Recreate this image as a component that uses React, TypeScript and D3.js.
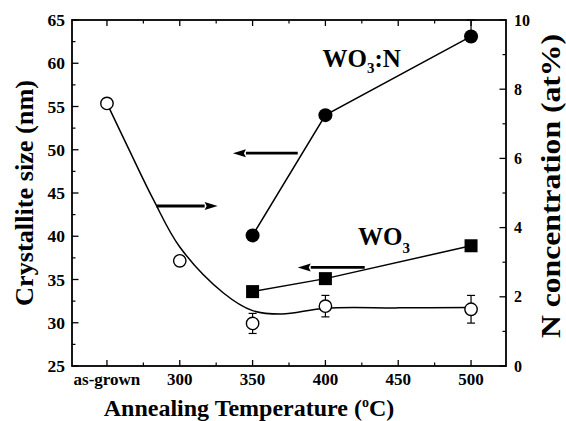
import React from "react";
import * as d3 from "d3";

// ---- data ----
const xTickValues = [250, 300, 350, 400, 450, 500];
const xTickLabels = ["as-grown", "300", "350", "400", "450", "500"];
const xMinorTicks = [275, 325, 375, 425, 475];
const leftTicks = [25, 30, 35, 40, 45, 50, 55, 60, 65];
const leftMinor = [27.5, 32.5, 37.5, 42.5, 47.5, 52.5, 57.5, 62.5];
const rightTicks = [0, 2, 4, 6, 8, 10];
const rightMinor = [1, 3, 5, 7, 9];

// N concentration (open circles, right axis)
const nTemps = [250, 300, 350, 400, 500];
const nConc = [7.59, 3.04, 1.23, 1.73, 1.64];
const nErr = [0, 0, 0.29, 0.31, 0.4];
// smooth fit curve through N concentration
const fitTemps = [250, 265, 282, 300, 330, 350, 370, 400, 450, 500];
const fitConc = [7.59, 6.27, 4.8, 3.44, 2.11, 1.6, 1.5, 1.67, 1.68, 1.69];

// WO3:N crystallite size (filled circles, left axis)
const wnTemps = [350, 400, 500];
const wnSize = [40.1, 54.0, 63.1];
const wnErr = [0, 0, 1.9];

// WO3 crystallite size (filled squares, left axis)
const wTemps = [350, 400, 500];
const wSize = [33.6, 35.1, 38.9];

// annotation arrows (temperature from, temperature to, left-axis value)
const arrowFrom = [381, 284, 427];
const arrowTo = [336.5, 326, 381];
const arrowY = [49.6, 43.5, 36.4];

const W = 566;
const H = 421;
const L = 72, R = 506, T = 20, B = 366;
const FONT = "Liberation Serif, DejaVu Serif, Times New Roman, serif";

export default function App() {
  const x = d3.scaleLinear().domain([226, 524]).range([L, R]);
  const yL = d3.scaleLinear().domain([25, 65]).range([B, T]);
  const yR = d3.scaleLinear().domain([0, 10]).range([B, T]);

  const fitLine = d3
    .line<number>()
    .x((d, i) => x(fitTemps[i]))
    .y((d) => yR(d))
    .curve(d3.curveCatmullRom.alpha(0.5))(fitConc);
  const wnLine = d3
    .line<number>()
    .x((d, i) => x(wnTemps[i]))
    .y((d) => yL(d))(wnSize);
  const wLine = d3
    .line<number>()
    .x((d, i) => x(wTemps[i]))
    .y((d) => yL(d))(wSize);

  const sq = 13;

  return (
    <svg
      width={W}
      height={H}
      style={{ position: "absolute", left: 0, top: 0, background: "#fff", fontFamily: FONT, fontWeight: "bold" }}
    >
      <rect x={0} y={0} width={W} height={H} fill="#fff" />
      {/* frame */}
      <rect x={L} y={T} width={R - L} height={B - T} fill="none" stroke="#000" strokeWidth={1.8} />

      {/* x ticks bottom & top */}
      {xTickValues.map((v) => (
        <g key={"xt" + v}>
          <line x1={x(v)} x2={x(v)} y1={B} y2={B - 6} stroke="#000" strokeWidth={1.3} />
          <line x1={x(v)} x2={x(v)} y1={T} y2={T + 6} stroke="#000" strokeWidth={1.3} />
        </g>
      ))}
      {xMinorTicks.map((v) => (
        <g key={"xm" + v}>
          <line x1={x(v)} x2={x(v)} y1={B} y2={B - 3.5} stroke="#000" strokeWidth={1.2} />
          <line x1={x(v)} x2={x(v)} y1={T} y2={T + 3.5} stroke="#000" strokeWidth={1.2} />
        </g>
      ))}
      {xTickValues.map((v, i) => (
        <text key={"xl" + v} x={x(v)} y={385} textAnchor="middle" fontSize={17}>
          {xTickLabels[i]}
        </text>
      ))}

      {/* left ticks */}
      {leftTicks.map((v) => (
        <g key={"lt" + v}>
          <line x1={L} x2={L + 6.5} y1={yL(v)} y2={yL(v)} stroke="#000" strokeWidth={1.3} />
          <text x={65} y={yL(v)} dy="0.35em" textAnchor="end" fontSize={17.5}>
            {v}
          </text>
        </g>
      ))}
      {leftMinor.map((v) => (
        <line key={"lm" + v} x1={L} x2={L + 3.5} y1={yL(v)} y2={yL(v)} stroke="#000" strokeWidth={1.2} />
      ))}

      {/* right ticks */}
      {rightTicks.map((v) => (
        <g key={"rt" + v}>
          <line x1={R} x2={R - 6.5} y1={yR(v)} y2={yR(v)} stroke="#000" strokeWidth={1.3} />
          <text x={514} y={yR(v)} dy="0.35em" textAnchor="start" fontSize={16}>
            {v}
          </text>
        </g>
      ))}
      {rightMinor.map((v) => (
        <line key={"rm" + v} x1={R} x2={R - 3.5} y1={yR(v)} y2={yR(v)} stroke="#000" strokeWidth={1.2} />
      ))}

      {/* axis titles */}
      <text
        transform={`translate(33,${(T + B) / 2}) rotate(-90)`}
        textAnchor="middle"
        fontSize={26}
        textLength={226}
        lengthAdjust="spacingAndGlyphs"
      >
        Crystallite size (nm)
      </text>
      <text
        transform={`translate(560,${186}) rotate(-90)`}
        textAnchor="middle"
        fontSize={27}
        textLength={304}
        lengthAdjust="spacingAndGlyphs"
      >
        N concentration (at%)
      </text>
      <text x={249} y={416} textAnchor="middle" fontSize={24}>
        Annealing Temperature (
        <tspan dy={-9} fontSize={14}>o</tspan>
        <tspan dy={9}>C)</tspan>
      </text>

      {/* fit curve */}
      <path d={fitLine || ""} fill="none" stroke="#000" strokeWidth={1.5} />
      {/* WO3:N line */}
      <path d={wnLine || ""} fill="none" stroke="#000" strokeWidth={1.5} />
      {/* WO3 line */}
      <path d={wLine || ""} fill="none" stroke="#000" strokeWidth={1.5} />

      {/* error bars for N concentration */}
      {nTemps.map((t, i) =>
        nErr[i] > 0 ? (
          <g key={"ne" + t} stroke="#000" strokeWidth={1.2}>
            <line x1={x(t)} x2={x(t)} y1={yR(nConc[i] - nErr[i])} y2={yR(nConc[i] + nErr[i])} />
            <line x1={x(t) - 4} x2={x(t) + 4} y1={yR(nConc[i] - nErr[i])} y2={yR(nConc[i] - nErr[i])} />
            <line x1={x(t) - 4} x2={x(t) + 4} y1={yR(nConc[i] + nErr[i])} y2={yR(nConc[i] + nErr[i])} />
          </g>
        ) : null
      )}
      {wnTemps.map((t, i) =>
        wnErr[i] > 0 ? (
          <g key={"we" + t} stroke="#000" strokeWidth={1.2}>
            <line x1={x(t)} x2={x(t)} y1={yL(wnSize[i])} y2={yL(wnSize[i] + wnErr[i])} />
            <line x1={x(t) - 4} x2={x(t) + 4} y1={yL(wnSize[i] + wnErr[i])} y2={yL(wnSize[i] + wnErr[i])} />
          </g>
        ) : null
      )}

      {/* open circles */}
      {nTemps.map((t, i) => (
        <circle key={"nc" + t} cx={x(t)} cy={yR(nConc[i])} r={6.2} fill="#fff" stroke="#000" strokeWidth={1.4} />
      ))}
      {/* filled circles */}
      {wnTemps.map((t, i) => (
        <circle key={"wc" + t} cx={x(t)} cy={yL(wnSize[i])} r={7} fill="#000" />
      ))}
      {/* filled squares */}
      {wTemps.map((t, i) => (
        <rect key={"ws" + t} x={x(t) - sq / 2} y={yL(wSize[i]) - sq / 2} width={sq} height={sq} fill="#000" />
      ))}

      {/* arrows */}
      {arrowFrom.map((f, i) => {
        const x1 = x(f);
        const x2 = x(arrowTo[i]);
        const y = yL(arrowY[i]);
        const dir = x2 > x1 ? 1 : -1;
        const headLen = 13;
        const baseX = x2 - dir * headLen;
        return (
          <g key={"ar" + i}>
            <line x1={x1} x2={baseX} y1={y} y2={y} stroke="#000" strokeWidth={2.8} />
            <path d={`M${x2},${y}L${baseX},${y - 4}L${baseX + dir * 2},${y}L${baseX},${y + 4}Z`} fill="#000" />
          </g>
        );
      })}

      {/* series labels */}
      <text x={x(398)} y={yL(59.6)} fontSize={25}>
        WO<tspan dy={6} fontSize={15}>3</tspan>
        <tspan dy={-6}>:N</tspan>
      </text>
      <text x={x(422.4)} y={yL(39.0)} fontSize={25}>
        WO<tspan dy={8} fontSize={15}>3</tspan>
      </text>
    </svg>
  );
}
